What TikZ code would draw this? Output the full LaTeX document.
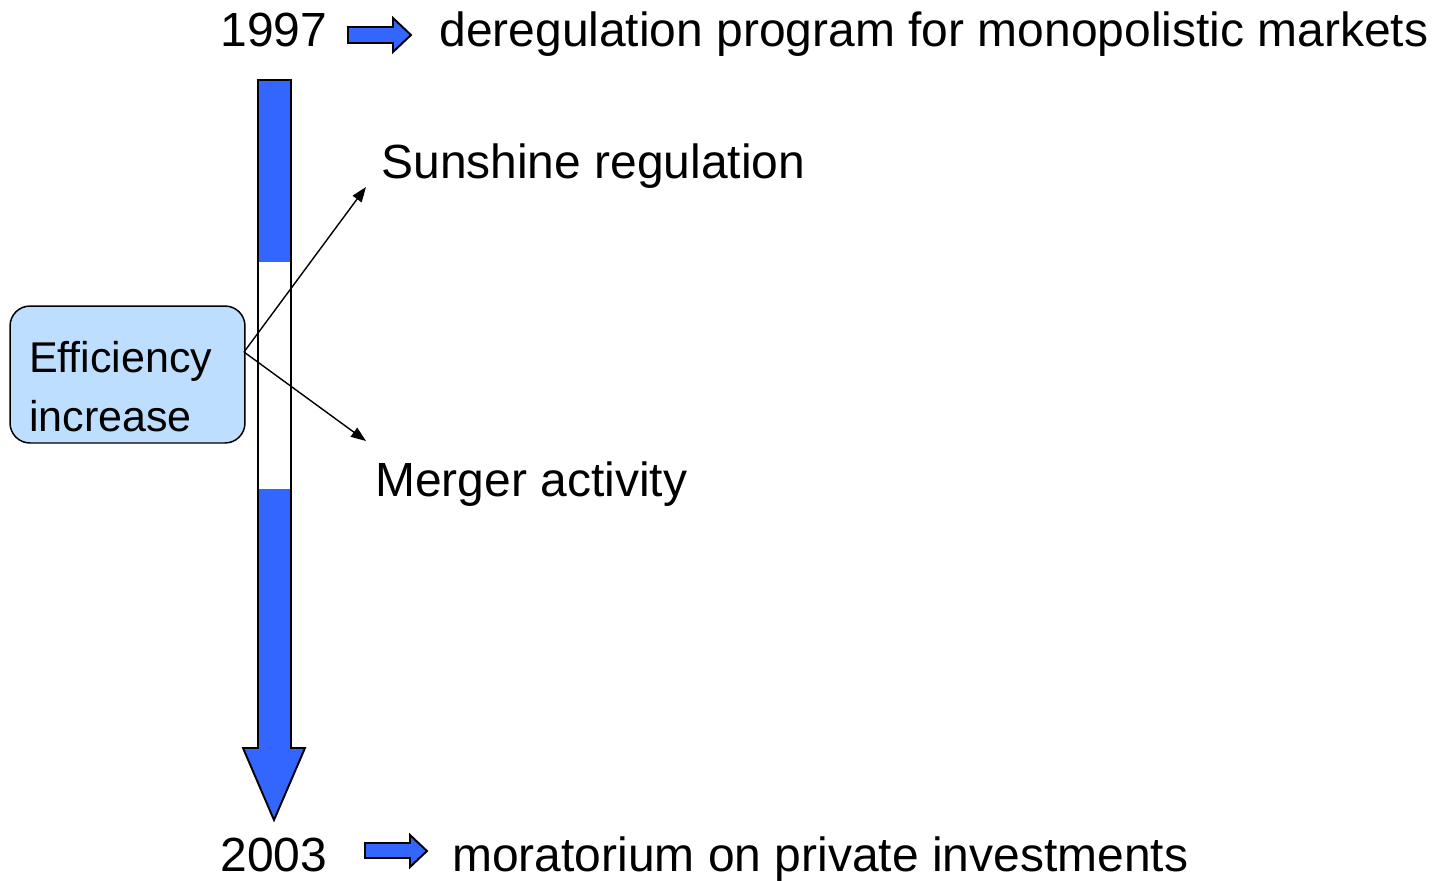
\documentclass[tikz,border=0pt]{standalone}
\usepackage{fontspec}
\setmainfont{Liberation Sans}
\usetikzlibrary{arrows.meta}
\definecolor{arrowblue}{RGB}{51,102,255}
\definecolor{boxblue}{RGB}{190,222,255}
\tikzset{
  bigtext/.style={font=\fontsize{27.3}{33}\selectfont,inner sep=0pt,anchor=base west},
  blockarrow/.style={fill=arrowblue,draw=black,line width=1.1pt,line join=miter},
  effbox/.style={draw=black,fill=boxblue,rounded corners=0.4cm,line width=0.85pt,
    minimum width=4.7cm,minimum height=2.74cm,text width=3.94cm,inner xsep=0.38cm,
    align=left,font=\fontsize{24.5}{33.5}\selectfont}
}
\begin{document}
\begin{tikzpicture}[x=0.02cm,y=-0.02cm,>={Triangle[length=0.3cm,width=0.22cm]}]
        \useasboundingbox(0,0)rectangle(1435,880);
        % time line
        \fill[arrowblue](258,80)--(291,80)--(291,748)--(305,748)--(274,820)--(243,748)--(258,748)--cycle;
        \fill[white](258,262)rectangle(291,489);
        \draw[line width=1.1pt,line join=miter](258,80)--(291,80)--(291,748)--(305,748)--(274,820)--(243,748)--(258,748)--cycle;
        % start and end
        \node[bigtext](y1997)at(220,46){1997};
        \draw[blockarrow](348,27)--(393,27)--(393,18)--(411,35)--(393,52)--(393,43)--(348,43)--cycle;
        \node[bigtext](dereg)at(439,46){deregulation program for monopolistic markets};
        \node[bigtext](y2003)at(220,871){2003};
        \draw[blockarrow](365,843)--(410,843)--(410,835)--(427,851)--(410,867)--(410,858)--(365,858)--cycle;
        \node[bigtext](morat)at(452,871){moratorium on private investments};
        % efficiency
        \node[effbox](eff)at(127.5,374.5){\rule{0pt}{1.11cm}Efficiency\\increase};
        \coordinate(effout)at(244,352);
        \node[bigtext](sun)at(381,178){Sunshine regulation};
        \node[bigtext](merger)at(375,496){Merger activity};
        \coordinate(suntip)at(366,187);
        \coordinate(mergertip)at(366,441);
        \draw[->,line width=0.8pt](effout)--(suntip);
        \draw[->,line width=0.8pt](effout)--(mergertip);
\end{tikzpicture}
\end{document}
